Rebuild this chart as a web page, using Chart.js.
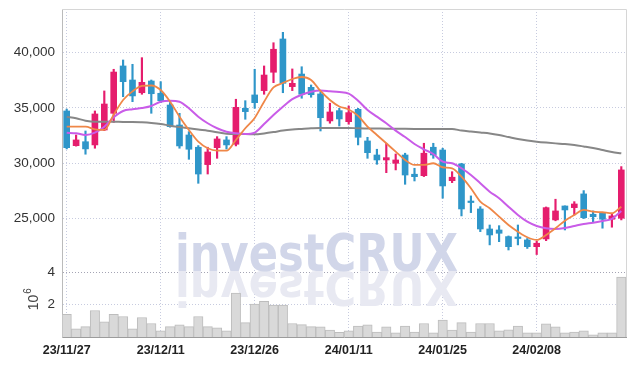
<!DOCTYPE html>
<html><head><meta charset="utf-8">
<script src="https://cdn.jsdelivr.net/npm/chart.js@4"></script>
<style>html,body{margin:0;padding:0;background:#fff}</style>
</head><body>
<canvas id="c" width="635" height="366"></canvas>
<script>
const dates = ['23/11/27','23/11/28','23/11/29','23/11/30','23/12/01','23/12/04','23/12/05','23/12/06','23/12/07','23/12/08',
'23/12/11','23/12/12','23/12/13','23/12/14','23/12/15','23/12/18','23/12/19','23/12/20','23/12/21','23/12/22',
'23/12/26','23/12/27','23/12/28','24/01/02','24/01/03','24/01/04','24/01/05','24/01/08','24/01/09','24/01/10',
'24/01/11','24/01/12','24/01/15','24/01/16','24/01/17','24/01/18','24/01/19','24/01/22','24/01/23','24/01/24',
'24/01/25','24/01/26','24/01/29','24/01/30','24/01/31','24/02/01','24/02/02','24/02/05','24/02/06','24/02/07',
'24/02/08','24/02/13','24/02/14','24/02/15','24/02/16','24/02/19','24/02/20','24/02/21','24/02/22','24/02/23'];
const openP  = [34730,31590,31950,31660,33010,34520,38800,37530,36380,37440,36330,35270,33460,32560,31450,29880,31410,32110,31720,34970,
36180,36570,38230,41240,36930,38070,36870,36270,33830,34760,33760,34880,32020,30750,30300,30000,30750,29010,28880,31450,
31200,28430,29940,26500,25870,24060,23970,23370,23250,23070,22460,23160,24880,26140,25990,27230,25390,25480,24940,25030];
const highP  = [34900,32560,32920,34730,36540,38500,39340,38950,39550,37530,37380,35500,34520,32860,31600,31450,32410,32410,35790,35660,
38500,38800,40900,41840,38530,38730,37080,36470,35430,34970,35180,34970,32350,31270,31810,30840,30910,29550,31810,31810,
31360,29240,30000,27050,26080,24420,24360,23430,24420,23200,22950,26050,26750,26150,26530,27530,25690,25500,25400,29700];
const lowP   = [31300,31550,30820,31360,32950,33700,36020,35570,36240,34520,35480,33260,31360,30360,28190,29030,30450,31290,31570,33980,
34970,36240,37290,36380,36570,35880,35970,32920,33620,33370,33530,31660,30450,29910,29150,29400,28100,28400,28800,30450,
26840,28250,25240,25540,23820,22620,22910,22160,22620,22300,21750,23000,24800,23970,25330,25000,24720,24130,24220,24880];
const closeP = [31410,32110,31300,34460,35360,38250,37380,36090,37320,36290,35660,33310,31570,31270,29030,31020,32200,31660,35060,34670,
35480,37980,40310,37230,37230,36240,36200,34120,34640,34010,34580,32350,30960,30300,30510,30300,28940,28790,30910,30750,
27950,28740,25870,26450,24060,23520,23670,22460,23200,22460,22770,25990,25690,25780,26320,25080,25170,24940,25240,29400];
const volumeM = [1.40,0.51,0.64,1.63,0.94,1.40,1.26,0.51,1.20,0.83,0.38,0.64,0.75,0.64,1.26,0.64,0.57,0.38,2.70,0.88,
2.02,2.20,1.96,1.96,0.83,0.76,0.64,0.63,0.42,0.29,0.38,0.67,0.75,0.31,0.63,0.25,0.67,0.31,0.83,0.25,
1.04,0.42,0.88,0.31,0.83,0.83,0.38,0.44,0.67,0.25,0.25,0.81,0.63,0.25,0.31,0.38,0.13,0.25,0.25,3.69];
const maShort = [33310,33310,33310,33075,33012,34400,35724,36500,37000,37035,36628,35570,34214,33012,31954,31357,31140,31140,32108,33166,
34100,35570,36854,37260,37620,37800,37532,36540,35724,35137,34865,34290,33310,32560,31810,31050,30300,29848,29848,30002,
29640,29550,28790,27740,26530,25934,25174,24424,23818,23312,23068,23520,24125,24812,25327,25780,25626,25572,25482,26078];
const maMid = [32760,32714,32560,32768,33310,34160,34730,34883,35000,35182,35570,35660,35570,34974,34214,33618,33166,32858,32714,32650,
32780,33550,34368,35120,35800,36200,36475,36585,36520,36447,36293,35660,34820,34214,33618,32950,32380,31746,31267,30842,
30146,30002,29550,28944,28193,27434,26838,26078,25327,24722,24334,24125,24062,24152,24334,24514,24632,24786,24966,25690];
const maLong = [34214,34070,33853,33762,33762,33762,33740,33740,33708,33650,33555,33400,33280,33166,33050,32950,32800,32680,32650,32650,
32620,32700,32820,32960,33050,33110,33166,33200,33200,33200,33200,33160,33150,33140,33130,33130,33120,33110,33100,33100,
33100,33100,32960,32870,32780,32690,32550,32370,32190,32050,31950,31870,31800,31740,31650,31520,31380,31200,31020,30900];
const priceTicks = [25000,30000,35000,40000];
const volumeTicks = [2,4];
const labelEvery = 10;
const watermarkText = 'investCRUX';
const volumeUnitBase = '10';
const volumeUnitExp = '6';

const UP = '#e51d6d', DOWN = '#2f96c9';
const candleColors = openP.map((o,i) => closeP[i] >= o ? UP : DOWN);
const GRID = '#c7cbdf';
const TICKFONT = '"Liberation Sans", Arial, sans-serif';

const noPad = s => { s.paddingTop = 0; s.paddingBottom = 0; };

const decorations = {
  id: 'decorations',
  beforeDatasetsDraw(chart) {
    const {ctx, chartArea} = chart;
    const vol = chart.scales.v;
    const base = vol.top - 1;
    const left = chartArea.left + 113;
    const targetW = 283;
    ctx.save();
    ctx.font = 'bold 51px "DejaVu Sans", sans-serif';
    const w = ctx.measureText(watermarkText).width;
    const sx = targetW / w;
    ctx.textBaseline = 'alphabetic';
    ctx.save();
    ctx.translate(left, base);
    ctx.scale(sx, -0.95);
    ctx.fillStyle = '#e8e9f2';
    ctx.fillText(watermarkText, 0, 0);
    ctx.restore();
    ctx.save();
    ctx.translate(left, base);
    ctx.scale(sx, 1);
    ctx.fillStyle = '#d1d6e9';
    ctx.fillText(watermarkText, 0, 0);
    ctx.restore();
    ctx.restore();
  },
  afterDraw(chart) {
    const {ctx, chartArea} = chart;
    ctx.save();
    ctx.strokeStyle = '#d6d6d6';
    ctx.lineWidth = 1;
    ctx.beginPath();
    ctx.moveTo(chartArea.left, chartArea.top + 0.5);
    ctx.lineTo(chartArea.right + 0.5, chartArea.top + 0.5);
    ctx.lineTo(chartArea.right + 0.5, chartArea.bottom);
    ctx.stroke();
    const vol = chart.scales.v;
    const cy = (vol.top + vol.bottom) / 2 - 5;
    ctx.translate(33, cy);
    ctx.rotate(-Math.PI / 2);
    ctx.fillStyle = '#444';
    ctx.textBaseline = 'middle';
    ctx.font = '14px "Liberation Sans", sans-serif';
    const w10 = ctx.measureText(volumeUnitBase).width;
    ctx.fillText(volumeUnitBase, -w10 / 2 - 3, 1);
    ctx.font = '10px "Liberation Sans", sans-serif';
    ctx.fillText(volumeUnitExp, w10 / 2 - 2, -5);
    ctx.restore();
  }
};

new Chart(document.getElementById('c'), {
  data: {
    labels: dates,
    datasets: [
      { type: 'line', label: 'MA5', data: maShort, yAxisID: 'y', borderColor: '#ef8748', borderWidth: 1.8, pointRadius: 0, cubicInterpolationMode: 'monotone', order: 0 },
      { type: 'line', label: 'MA20', data: maMid, yAxisID: 'y', borderColor: '#c95ce8', borderWidth: 2, pointRadius: 0, cubicInterpolationMode: 'monotone', order: 0 },
      { type: 'line', label: 'MA120', data: maLong, yAxisID: 'y', borderColor: '#878787', borderWidth: 2, pointRadius: 0, cubicInterpolationMode: 'monotone', order: 0 },
      { type: 'bar', label: 'body', data: openP.map((o,i) => [o, closeP[i]]), yAxisID: 'y', backgroundColor: candleColors, borderWidth: 0, barThickness: 6, minBarLength: 1.5, grouped: false, order: 1 },
      { type: 'bar', label: 'wick', data: lowP.map((l,i) => [l, highP[i]]), yAxisID: 'y', backgroundColor: candleColors, borderWidth: 0, barThickness: 1.5, grouped: false, order: 2 },
      { type: 'bar', label: 'volume', data: volumeM, yAxisID: 'v', backgroundColor: '#d9d9d9', borderColor: '#bdbdbd', borderWidth: 1, barPercentage: 1, categoryPercentage: 1, grouped: false, order: 3 }
    ]
  },
  options: {
    responsive: false,
    devicePixelRatio: 1,
    animation: false,
    layout: { padding: { top: 9, right: 9, left: 0, bottom: 0 } },
    plugins: { legend: { display: false }, tooltip: { enabled: false } },
    scales: {
      x: {
        type: 'category', offset: true,
        grid: { offset: false, drawTicks: false, color: c => (c.index % labelEvery === 0 ? GRID : 'rgba(0,0,0,0)') },
        border: { color: '#9c9c9c', dash: [1, 2] },
        ticks: { autoSkip: false, maxRotation: 0, minRotation: 0, padding: 6, color: '#222',
          font: { family: TICKFONT, size: 12.5, weight: 'bold' },
          callback: (v, i) => (i % labelEvery === 0 ? dates[i] : '') },
        afterFit: s => { s.height = 29; s.paddingLeft = 0; s.paddingRight = 0; }
      },
      v: {
        type: 'linear', position: 'left', stack: 'panes', stackWeight: 65, min: 0, max: 4,
        afterBuildTicks: s => { s.ticks = volumeTicks.map(v => ({ value: v })); },
        grid: { drawTicks: false, color: c => (c.tick && c.tick.value === 4 ? '#a4a4b4' : GRID) },
        border: { color: '#bbbbbb', dash: [1, 2] },
        ticks: { padding: 7, color: '#333', font: { family: TICKFONT, size: 13.5 } },
        afterFit: s => { s.width = 62; noPad(s); }
      },
      y: {
        type: 'linear', position: 'left', stack: 'panes', stackWeight: 263, min: 20170, max: 43950,
        afterBuildTicks: s => { s.ticks = priceTicks.map(v => ({ value: v })); },
        grid: { drawTicks: false, color: GRID },
        border: { color: '#bbbbbb', dash: [1, 2] },
        ticks: { padding: 7, color: '#333', font: { family: TICKFONT, size: 13.5 },
          callback: v => Number(v).toLocaleString('en-US') },
        afterFit: s => { s.width = 62; noPad(s); }
      }
    }
  },
  plugins: [decorations]
});
</script>
</body></html>
